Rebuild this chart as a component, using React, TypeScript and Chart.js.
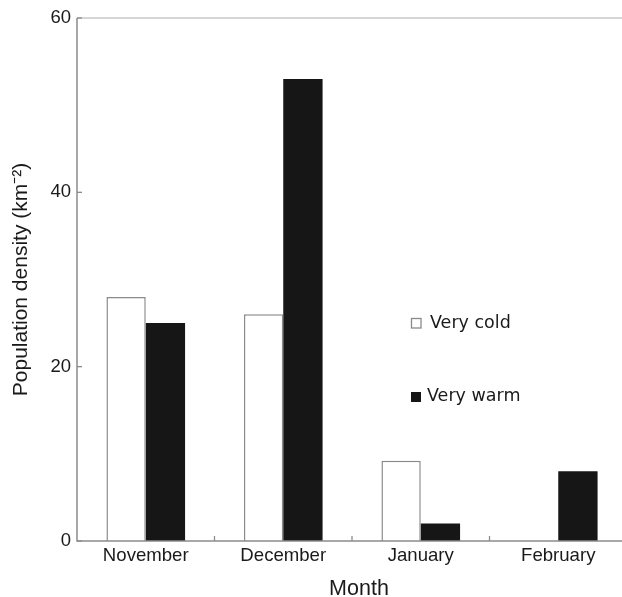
import React, { useEffect, useRef } from 'react';
import { Chart, registerables } from 'chart.js';

Chart.register(...registerables);

const months = ['November', 'December', 'January', 'February'];
const veryCold: (number | null)[] = [28, 26, 9.2, null];
const veryWarm: (number | null)[] = [25, 53, 2, 8];
const yTickValues = [0, 20, 40, 60];
const seriesLabels = ['Very cold', 'Very warm'];
const xTitle = 'Month';
const yTitle = 'Population density (km\u207B\u00B2)';

const FONT = '"Liberation Sans", Arial, sans-serif';

export default function App() {
  const ref = useRef<HTMLCanvasElement>(null);

  useEffect(() => {
    if (!ref.current) return;

    const axesPlugin = {
      id: 'customAxes',
      afterDatasetsDraw(chart: any) {
        const { ctx, chartArea: a, scales } = chart;
        const x = scales.x;
        const y = scales.y;
        ctx.save();
        // top frame line
        ctx.strokeStyle = '#c8c8c8';
        ctx.lineWidth = 1.5;
        ctx.beginPath();
        ctx.moveTo(a.left, a.top);
        ctx.lineTo(a.right + 20, a.top);
        ctx.stroke();
        // left axis and bottom axis
        ctx.strokeStyle = '#8c8c8c';
        ctx.lineWidth = 1.5;
        ctx.beginPath();
        ctx.moveTo(a.left, a.top);
        ctx.lineTo(a.left, a.bottom);
        ctx.lineTo(a.right + 20, a.bottom);
        ctx.stroke();
        // inside ticks on y
        ctx.lineWidth = 1.3;
        yTickValues.forEach((v) => {
          const py = y.getPixelForValue(v);
          ctx.beginPath();
          ctx.moveTo(a.left, py);
          ctx.lineTo(a.left + 5, py);
          ctx.stroke();
        });
        // inside ticks on x between categories
        for (let i = 0; i < months.length - 1; i++) {
          const px = (x.getPixelForValue(i) + x.getPixelForValue(i + 1)) / 2;
          ctx.beginPath();
          ctx.moveTo(px, a.bottom);
          ctx.lineTo(px, a.bottom - 5);
          ctx.stroke();
        }
        ctx.restore();
      },
    };

    const legendPlugin = {
      id: 'customLegend',
      afterDraw(chart: any) {
        const { ctx, chartArea: a } = chart;
        const rows = [
          { boxX: a.left + 334, boxY: a.top + 300, textX: a.left + 353, baseY: a.top + 310 },
          { boxX: a.left + 334, boxY: a.top + 374, textX: a.left + 350, baseY: a.top + 383 },
        ];
        ctx.save();
        chart.data.datasets.forEach((ds: any, i: number) => {
          const r = rows[i];
          ctx.fillStyle = ds.backgroundColor;
          ctx.fillRect(r.boxX, r.boxY, 10, 10);
          if (ds.borderWidth) {
            ctx.strokeStyle = ds.borderColor;
            ctx.lineWidth = 1.3;
            ctx.strokeRect(r.boxX + 0.5, r.boxY + 0.5, 9.5, 9.5);
          }
          ctx.fillStyle = '#1a1a1a';
          ctx.font = '17.5px "DejaVu Sans", sans-serif';
          ctx.textAlign = 'left';
          ctx.textBaseline = 'alphabetic';
          ctx.fillText(ds.label, r.textX, r.baseY);
        });
        // x-axis title
        ctx.fillStyle = '#1a1a1a';
        ctx.font = '21.5px ' + FONT;
        ctx.textAlign = 'center';
        ctx.textBaseline = 'alphabetic';
        ctx.fillText(xTitle, (a.left + a.right) / 2 + 7, a.bottom + 54);
        ctx.restore();
      },
    };

    const chart = new Chart(ref.current, {
      type: 'bar',
      data: {
        labels: months,
        datasets: [
          {
            label: seriesLabels[0],
            data: veryCold,
            backgroundColor: '#ffffff',
            borderColor: '#8a8a8a',
            borderWidth: 1.5,
          },
          {
            label: seriesLabels[1],
            data: veryWarm,
            backgroundColor: '#161616',
            borderColor: '#161616',
            borderWidth: 0,
          },
        ],
      },
      options: {
        responsive: false,
        animation: false,
        devicePixelRatio: 1,
        layout: { padding: { top: 18, right: 13, bottom: 0, left: 0 } },
        datasets: {
          bar: { categoryPercentage: 0.572, barPercentage: 1 },
        },
        plugins: {
          legend: { display: false },
          tooltip: { enabled: false },
          title: { display: false },
        },
        scales: {
          x: {
            grid: { display: false, drawTicks: false },
            border: { display: false },
            ticks: {
              color: '#1a1a1a',
              font: { family: FONT, size: 18.6 },
              padding: 4,
              maxRotation: 0,
            },
            title: { display: false },
            afterFit(scale: any) {
              scale.height = 56;
            },
          },
          y: {
            min: 0,
            max: 60,
            grid: { display: false, drawTicks: false },
            border: { display: false },
            afterBuildTicks(scale: any) {
              scale.ticks = yTickValues.map((v) => ({ value: v }));
            },
            ticks: {
              color: '#1a1a1a',
              font: { family: FONT, size: 18.5 },
              padding: 6,
            },
            title: {
              display: true,
              text: yTitle,
              color: '#1a1a1a',
              font: { family: FONT, size: 21, lineHeight: 1 },
              padding: { top: 11, bottom: 0 },
            },
            afterFit(scale: any) {
              scale.width = 77;
            },
          },
        },
      },
      plugins: [axesPlugin, legendPlugin],
    } as any);

    return () => chart.destroy();
  }, []);

  return (
    <div
      style={{
        position: 'fixed',
        left: 0,
        top: 0,
        width: 622,
        height: 597,
        overflow: 'hidden',
        background: '#ffffff',
      }}
    >
      <canvas ref={ref} width={640} height={597} style={{ width: 640, height: 597, display: 'block' }} />
    </div>
  );
}
